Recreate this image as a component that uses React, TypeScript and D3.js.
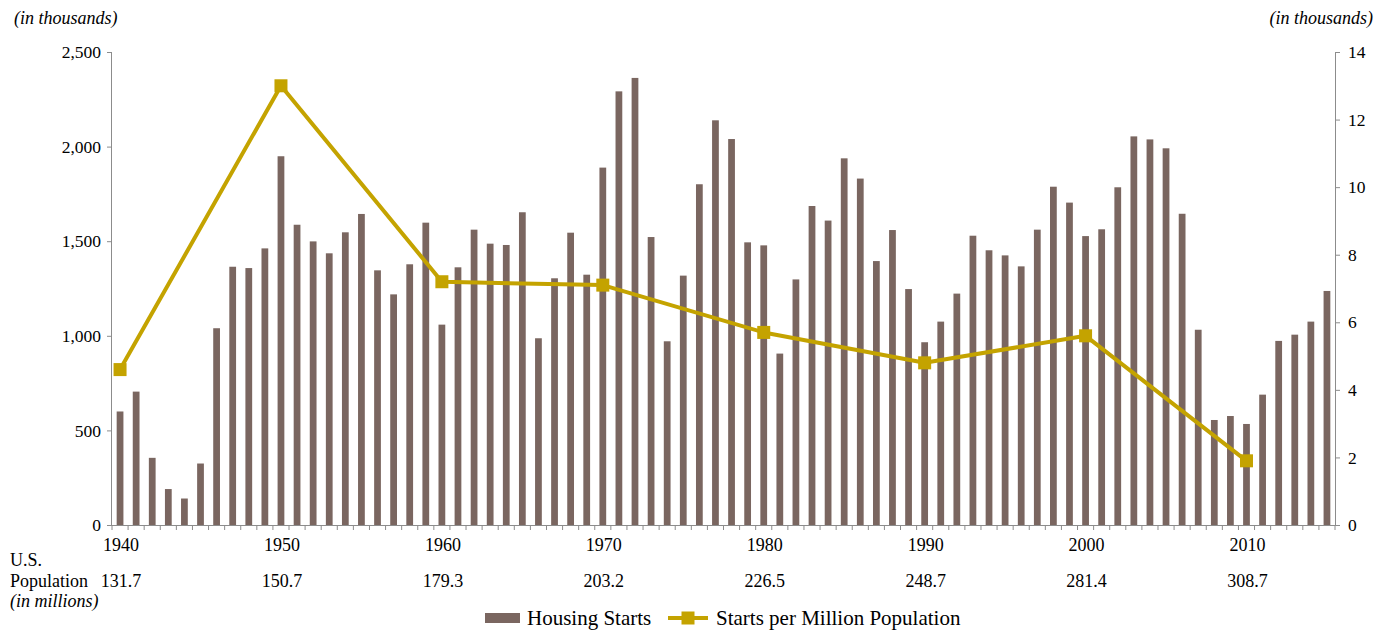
import React, { useEffect, useRef } from "react";
import * as d3 from "d3";

const years = d3.range(1940, 2016);

// housing starts, thousands
const starts = [
  600, 705, 355, 190, 140, 325, 1040, 1365, 1358, 1462,
  1949, 1587, 1499, 1436, 1547, 1644, 1346, 1219, 1378, 1598,
  1059, 1362, 1561, 1487, 1480, 1653, 987, 1304, 1545, 1323,
  1889, 2292, 2363, 1522, 971, 1318, 1801, 2139, 2040, 1494,
  1478, 906, 1298, 1686, 1609, 1938, 1831, 1395, 1559, 1247,
  966, 1075, 1223, 1529, 1452, 1425, 1367, 1561, 1788, 1704,
  1527, 1563, 1785, 2054, 2038, 1991, 1645, 1032, 555, 576,
  534, 689, 973, 1006, 1075, 1237,
];

const decades = [1940, 1950, 1960, 1970, 1980, 1990, 2000, 2010];
const perMillion = [4.6, 13.0, 7.2, 7.1, 5.7, 4.8, 5.6, 1.9];
const population = ["131.7", "150.7", "179.3", "203.2", "226.5", "248.7", "281.4", "308.7"];

const leftTicks = [0, 500, 1000, 1500, 2000, 2500];
const rightTicks = [0, 2, 4, 6, 8, 10, 12, 14];

const W = 1388;
const H = 631;
const BAR = "#7a6660";
const LINE = "#c4a300";
const AXIS = "#8c8c8c";
const FONT = "'Liberation Serif', 'Times New Roman', serif";

export default function App() {
  const ref = useRef(null);

  useEffect(() => {
    const svg = d3.select(ref.current);
    svg.selectAll("*").remove();

    const left = 112, right = 1335, top = 52, bottom = 525;

    const x = d3.scaleBand()
      .domain(years.map(String))
      .range([left, right])
      .paddingInner(0.58)
      .paddingOuter(0.29);
    const xc = (yr) => x(String(yr)) + x.bandwidth() / 2;

    const y = d3.scaleLinear().domain([0, 2500]).range([bottom, top]);
    const y2 = d3.scaleLinear().domain([0, 14]).range([bottom, top]);

    // bars
    svg.append("g")
      .selectAll("rect")
      .data(starts)
      .join("rect")
      .attr("x", (d, i) => x(String(years[i])))
      .attr("y", d => y(d))
      .attr("width", x.bandwidth())
      .attr("height", d => bottom - y(d))
      .attr("fill", BAR);

    // left axis
    const yAxis = svg.append("g")
      .attr("transform", `translate(${left},0)`)
      .call(d3.axisLeft(y).tickValues(leftTicks).tickFormat(d3.format(",")).tickSize(5).tickPadding(6));
    yAxis.select(".domain").attr("stroke", AXIS).attr("d", `M-0.5,${bottom}V${top}`);

    // right axis
    const y2Axis = svg.append("g")
      .attr("transform", `translate(${right},0)`)
      .call(d3.axisRight(y2).tickValues(rightTicks).tickSize(5).tickPadding(8));
    y2Axis.select(".domain").attr("stroke", AXIS).attr("d", `M0.5,${bottom}V${top}`);

    [yAxis, y2Axis].forEach(a => {
      a.selectAll(".tick line").attr("stroke", AXIS);
      a.selectAll("text")
        .attr("fill", "#000")
        .style("font-family", FONT)
        .style("font-size", "17.5px");
    });

    // bottom axis with minor ticks at band edges
    const step = x.step();
    const xAxis = svg.append("g");
    xAxis.append("line")
      .attr("x1", left).attr("x2", right)
      .attr("y1", bottom + 0.5).attr("y2", bottom + 0.5)
      .attr("stroke", AXIS);
    xAxis.selectAll(".minor")
      .data(d3.range(years.length + 1))
      .join("line")
      .attr("class", "minor")
      .attr("x1", i => left + i * step).attr("x2", i => left + i * step)
      .attr("y1", bottom).attr("y2", bottom + 5)
      .attr("stroke", AXIS);

    const txt = (g) => g
      .attr("fill", "#000")
      .style("font-family", FONT)
      .style("font-size", "18px");

    svg.append("g").selectAll("text")
      .data(decades)
      .join("text")
      .attr("x", d => xc(d) + 1)
      .attr("y", 551)
      .attr("text-anchor", "middle")
      .text(d => d)
      .call(txt);

    svg.append("g").selectAll("text")
      .data(population)
      .join("text")
      .attr("x", (d, i) => xc(decades[i]) + 1)
      .attr("y", 587)
      .attr("text-anchor", "middle")
      .text(d => d)
      .call(txt);

    svg.append("text").attr("x", 10).attr("y", 566).text("U.S.").call(txt);
    svg.append("text").attr("x", 10).attr("y", 587).text("Population").call(txt);
    svg.append("text").attr("x", 10).attr("y", 607).text("(in millions)")
      .call(txt).style("font-style", "italic");

    svg.append("text").attr("x", 14).attr("y", 24).text("(in thousands)")
      .call(txt).style("font-style", "italic");
    svg.append("text").attr("x", 1373).attr("y", 24).attr("text-anchor", "end")
      .text("(in thousands)")
      .call(txt).style("font-style", "italic");

    // line series
    const line = d3.line()
      .x((d, i) => xc(decades[i]))
      .y(d => y2(d));

    svg.append("path")
      .datum(perMillion)
      .attr("d", line)
      .attr("fill", "none")
      .attr("stroke", LINE)
      .attr("stroke-width", 4)
      .attr("stroke-linejoin", "round");

    const m = 13;
    svg.append("g").selectAll("rect")
      .data(perMillion)
      .join("rect")
      .attr("x", (d, i) => xc(decades[i]) - m / 2)
      .attr("y", d => y2(d) - m / 2)
      .attr("width", m)
      .attr("height", m)
      .attr("fill", LINE);

    // legend
    const lg = svg.append("g").attr("transform", "translate(0,618)");
    lg.append("rect")
      .attr("x", 485).attr("y", -5).attr("width", 35).attr("height", 10)
      .attr("fill", BAR);
    lg.append("text").attr("x", 527).attr("y", 7).text("Housing Starts")
      .call(txt).style("font-size", "21px");
    lg.append("line")
      .attr("x1", 668).attr("x2", 708).attr("y1", 0).attr("y2", 0)
      .attr("stroke", LINE).attr("stroke-width", 4);
    lg.append("rect")
      .attr("x", 688 - m / 2).attr("y", -m / 2).attr("width", m).attr("height", m)
      .attr("fill", LINE);
    lg.append("text").attr("x", 716).attr("y", 7).text("Starts per Million Population")
      .call(txt).style("font-size", "21px");
  }, []);

  return (
    <svg
      ref={ref}
      width={W}
      height={H}
      style={{ position: "absolute", left: 0, top: 0, background: "#fff" }}
    />
  );
}
